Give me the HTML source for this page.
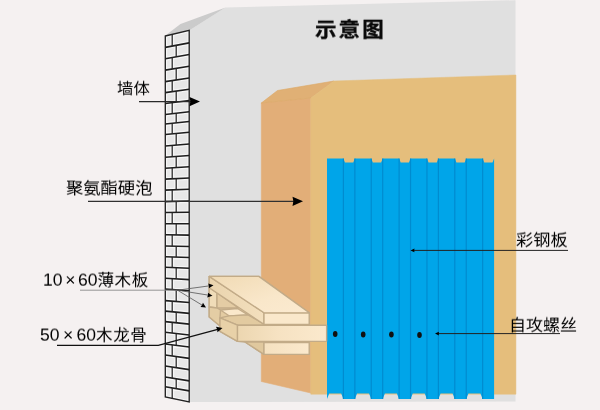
<!DOCTYPE html>
<html lang="zh-CN">
<head>
<meta charset="utf-8">
<title>示意图</title>
<style>
html,body{margin:0;padding:0;background:#f5f1f1;}
body{width:600px;height:410px;overflow:hidden;position:relative;font-family:"Liberation Sans","Noto Sans CJK SC",sans-serif;}
svg{position:absolute;left:0;top:0;display:block;}
.t{font-weight:400;position:absolute;transform:translateZ(0) scaleY(0.93);transform-origin:0 50%;will-change:transform;white-space:nowrap;color:#000;font-size:16px;line-height:1;margin:0;}
.title{font-weight:bold;font-size:21.5px;letter-spacing:2.1px;color:#0a0a0a;left:315px;top:19.8px;transform:translateZ(0) scaleY(0.93);transform-origin:0 50%;-webkit-text-stroke:0.35px #0a0a0a;}
.c{font-size:16.6px;letter-spacing:0.5px;}
</style>
</head>
<body>
<svg width="600" height="410" viewBox="0 0 600 410">
<defs>
<linearGradient id="gw4" x1="0" y1="0" x2="1" y2="0"><stop offset="0" stop-color="#f5e1c0"/><stop offset="1" stop-color="#fbe9cd"/></linearGradient>
<linearGradient id="gw1" x1="0" y1="0" x2="1" y2="0"><stop offset="0" stop-color="#ecd6b0"/><stop offset="0.45" stop-color="#f6e2c2"/><stop offset="1" stop-color="#fbe9cd"/></linearGradient>
<linearGradient id="gw2" x1="0" y1="0" x2="1" y2="0"><stop offset="0" stop-color="#ead4ae"/><stop offset="1" stop-color="#f3dfbd"/></linearGradient>
<linearGradient id="gw3" x1="0" y1="0" x2="1" y2="1"><stop offset="0" stop-color="#f0dab4"/><stop offset="0.6" stop-color="#f9e7ca"/><stop offset="1" stop-color="#fbead0"/></linearGradient>
</defs>
<polygon points="189.2,30.6 225.5,7.6 515.5,0.2 515.5,401.5 189.2,402" fill="#e0e0e0"/>
<polygon points="164.8,36 180.5,24 225.5,7.6 189.2,30.6" fill="#cbcbcb"/>
<clipPath id="bc"><polygon points="165.3,36.00 189.2,30.40 189.2,402.00 165.3,397.00"/></clipPath>
<polygon points="165.3,36.00 189.2,30.40 189.2,402.00 165.3,397.00" fill="#e7e7e7"/>
<g clip-path="url(#bc)"><path d="M165.3,47.40L189.2,42.91M165.3,58.70L189.2,54.50M165.3,70.10L189.2,66.19M165.3,81.60L189.2,77.98M165.3,92.60L189.2,89.26M165.3,103.50L189.2,100.44M165.3,114.50L189.2,111.72M165.3,124.00L189.2,121.46M165.3,134.50L189.2,132.23M165.3,146.00L189.2,144.02M165.3,157.20L189.2,155.51M165.3,168.20L189.2,166.79M165.3,179.10L189.2,177.97M165.3,190.10L189.2,189.25M165.3,201.60L189.2,201.04M165.3,212.50L189.2,212.22M165.3,223.80L189.2,223.81M165.3,234.80L189.2,235.09M165.3,246.00L189.2,246.57M165.3,256.70L189.2,257.55M165.3,267.20L189.2,268.31M165.3,278.20L189.2,279.59M165.3,289.10L189.2,290.77M165.3,300.60L189.2,302.57M165.3,311.10L189.2,313.33M165.3,321.60L189.2,324.10M165.3,332.30L189.2,335.07M165.3,344.00L189.2,347.07M165.3,355.00L189.2,358.35M165.3,366.00L189.2,369.63M165.3,377.00L189.2,380.91M165.3,386.70L189.2,390.86M172.2,34.38L172.2,46.10M176.2,45.35L176.2,56.78M172.2,57.49L172.2,68.97M176.2,68.32L176.2,79.95M172.2,80.56L172.2,91.64M176.2,91.08L176.2,102.10M172.2,102.62L172.2,113.70M176.2,113.23L176.2,122.84M172.2,123.27L172.2,133.84M176.2,133.46L176.2,145.10M172.2,145.43L172.2,156.71M176.2,156.43L176.2,167.56M172.2,167.79L172.2,178.77M176.2,178.58L176.2,189.71M172.2,189.85L172.2,201.44M176.2,201.35L176.2,212.37M172.2,212.42L172.2,223.80M176.2,223.80L176.2,234.93M172.2,234.88L172.2,246.17M176.2,246.26L176.2,257.09M172.2,256.94L172.2,267.52M176.2,267.71L176.2,278.84M172.2,278.60L172.2,289.58M176.2,289.86L176.2,301.50M172.2,301.17L172.2,311.74M176.2,312.12L176.2,322.74M172.2,322.32L172.2,333.10M176.2,333.57L176.2,345.40M172.2,344.89L172.2,355.97M176.2,356.53L176.2,367.66M172.2,367.05L172.2,378.13M176.2,378.79L176.2,388.60M172.2,387.90L172.2,398.44" fill="none" stroke="#f6f6f6" stroke-width="4"/><polygon points="165.3,36.00 189.2,30.40 189.2,402.00 165.3,397.00" fill="none" stroke="#f6f6f6" stroke-width="3.6"/></g>
<path d="M165.3,47.40L189.2,42.91M165.3,58.70L189.2,54.50M165.3,70.10L189.2,66.19M165.3,81.60L189.2,77.98M165.3,92.60L189.2,89.26M165.3,103.50L189.2,100.44M165.3,114.50L189.2,111.72M165.3,124.00L189.2,121.46M165.3,134.50L189.2,132.23M165.3,146.00L189.2,144.02M165.3,157.20L189.2,155.51M165.3,168.20L189.2,166.79M165.3,179.10L189.2,177.97M165.3,190.10L189.2,189.25M165.3,201.60L189.2,201.04M165.3,212.50L189.2,212.22M165.3,223.80L189.2,223.81M165.3,234.80L189.2,235.09M165.3,246.00L189.2,246.57M165.3,256.70L189.2,257.55M165.3,267.20L189.2,268.31M165.3,278.20L189.2,279.59M165.3,289.10L189.2,290.77M165.3,300.60L189.2,302.57M165.3,311.10L189.2,313.33M165.3,321.60L189.2,324.10M165.3,332.30L189.2,335.07M165.3,344.00L189.2,347.07M165.3,355.00L189.2,358.35M165.3,366.00L189.2,369.63M165.3,377.00L189.2,380.91M165.3,386.70L189.2,390.86" fill="none" stroke="#1e1e1e" stroke-width="1.6"/>
<path d="M172.2,34.38L172.2,46.10M176.2,45.35L176.2,56.78M172.2,57.49L172.2,68.97M176.2,68.32L176.2,79.95M172.2,80.56L172.2,91.64M176.2,91.08L176.2,102.10M172.2,102.62L172.2,113.70M176.2,113.23L176.2,122.84M172.2,123.27L172.2,133.84M176.2,133.46L176.2,145.10M172.2,145.43L172.2,156.71M176.2,156.43L176.2,167.56M172.2,167.79L172.2,178.77M176.2,178.58L176.2,189.71M172.2,189.85L172.2,201.44M176.2,201.35L176.2,212.37M172.2,212.42L172.2,223.80M176.2,223.80L176.2,234.93M172.2,234.88L172.2,246.17M176.2,246.26L176.2,257.09M172.2,256.94L172.2,267.52M176.2,267.71L176.2,278.84M172.2,278.60L172.2,289.58M176.2,289.86L176.2,301.50M172.2,301.17L172.2,311.74M176.2,312.12L176.2,322.74M172.2,322.32L172.2,333.10M176.2,333.57L176.2,345.40M172.2,344.89L172.2,355.97M176.2,356.53L176.2,367.66M172.2,367.05L172.2,378.13M176.2,378.79L176.2,388.60M172.2,387.90L172.2,398.44" fill="none" stroke="#262626" stroke-width="1.25"/>
<polygon points="165.3,36.00 189.2,30.40 189.2,402.00 165.3,397.00" fill="none" stroke="#222" stroke-width="1.35" stroke-linejoin="miter"/>
<polygon points="261.3,103 310.8,98 310.8,393 261.3,381.5" fill="#e2ae78" stroke="#e2ae78" stroke-width="0.6"/>
<polygon points="261.3,103 277.5,90.5 334,81 310.8,98" fill="#e0b075" stroke="#dba764" stroke-width="0.6"/>
<polygon points="310.8,98 334,81 515.9,75 515.9,394.2 310.8,394.2" fill="#e5be7c" stroke="#e5be7c" stroke-width="0.5"/>
<polygon points="327.00,158.40 343.40,158.40 345.00,162.60 353.25,162.60 354.85,158.40 371.25,158.40 372.85,162.60 381.10,162.60 382.70,158.40 399.10,158.40 400.70,162.60 408.95,162.60 410.55,158.40 426.95,158.40 428.55,162.60 436.80,162.60 438.40,158.40 454.80,158.40 456.40,162.60 464.65,162.60 466.25,158.40 482.65,158.40 484.25,162.60 492.50,162.60 494.10,158.40 494.10,399.00 482.65,399.00 480.45,393.40 468.45,393.40 466.25,399.00 454.80,399.00 452.60,393.40 440.60,393.40 438.40,399.00 426.95,399.00 424.75,393.40 412.75,393.40 410.55,399.00 399.10,399.00 396.90,393.40 384.90,393.40 382.70,399.00 371.25,399.00 369.05,393.40 357.05,393.40 354.85,399.00 343.40,399.00 341.20,393.40 329.20,393.40 327.00,399.00 327.00,158.40" fill="#00a5e9"/>
<path d="M343.40,158.4L343.40,399.0M354.85,158.4L354.85,399.0M371.25,158.4L371.25,399.0M382.70,158.4L382.70,399.0M399.10,158.4L399.10,399.0M410.55,158.4L410.55,399.0M426.95,158.4L426.95,399.0M438.40,158.4L438.40,399.0M454.80,158.4L454.80,399.0M466.25,158.4L466.25,399.0M482.65,158.4L482.65,399.0" fill="none" stroke="#008bcf" stroke-width="1.2"/>
<polygon points="209.2,276.4 209.2,317 220,326 220,331.4 237.5,341.4 245,342 264,354.4 309.2,354.4 309.2,312.8 258.8,276.4" fill="#e3cba2" stroke="#c2ab88" stroke-width="1.35" stroke-linejoin="round"/>
<polygon points="245,342 264,342 264,354.4" fill="#e0c89e" stroke="#c2ab88" stroke-width="1.35" stroke-linejoin="round"/>
<polygon points="264,342.6 309.2,342.6 309.2,354.4 264,354.4" fill="url(#gw4)" stroke="#c2ab88" stroke-width="1.35" stroke-linejoin="round"/>
<polygon points="209.2,287.8 217,293 217,308 209.2,307" fill="#f0dcb8" stroke="#c2ab88" stroke-width="1.35" stroke-linejoin="round"/>
<polygon points="217,293 238.5,308 217,308" fill="#e4cca4" stroke="#c2ab88" stroke-width="1.35" stroke-linejoin="round"/>
<polygon points="209.2,307 217,308 220.5,310 220,317.5 220,326 209.2,317" fill="#e4cda4" stroke="#c2ab88" stroke-width="1.35" stroke-linejoin="round"/>
<polygon points="220.5,310 237.5,308.5 248,314.8 229,315.8" fill="#fae8cb" stroke="#c2ab88" stroke-width="1.35" stroke-linejoin="round"/>
<polygon points="220,317.8 229,315.8 248,314.8 264,324.2 264,325.2 237.5,325.2" fill="#e2caa0" stroke="#c2ab88" stroke-width="1.35" stroke-linejoin="round"/>
<polygon points="220,317.8 237.5,325.2 237.5,341.3 220,331.4" fill="#e8d1a8" stroke="#c2ab88" stroke-width="1.35" stroke-linejoin="round"/>
<polygon points="237.5,325.2 326.6,325.2 326.6,341.3 237.5,341.3" fill="url(#gw1)" stroke="#c2ab88" stroke-width="1.35" stroke-linejoin="round"/>
<polygon points="209.2,276.4 264,312.8 264,324.4 209.2,287.8" fill="url(#gw2)" stroke="#c2ab88" stroke-width="1.35" stroke-linejoin="round"/>
<polygon points="264,312.8 309.2,312.8 309.2,324.4 264,324.4" fill="#fae8cb" stroke="#c2ab88" stroke-width="1.35" stroke-linejoin="round"/>
<polygon points="209.2,276.4 258.8,276.4 309.2,312.8 264,312.8" fill="url(#gw3)" stroke="#c2ab88" stroke-width="1.35" stroke-linejoin="round"/>
<ellipse cx="335.2" cy="334" rx="2.3" ry="2.9" fill="#111"/>
<ellipse cx="363.2" cy="334.5" rx="2.3" ry="2.9" fill="#111"/>
<ellipse cx="391.4" cy="334.5" rx="2.3" ry="2.9" fill="#111"/>
<ellipse cx="419.5" cy="335" rx="2.3" ry="2.9" fill="#111"/>
<path d="M139,101.6L191.50,101.60" fill="none" stroke="#2a2a2a" stroke-width="1.2"/>
<polygon points="200.00,101.60 189.50,106.20 190.34,101.60 189.50,97.00" fill="#000"/>
<path d="M88,201.3L294.50,201.30" fill="none" stroke="#303030" stroke-width="1.3"/>
<polygon points="303.00,201.30 292.50,205.90 293.34,201.30 292.50,196.70" fill="#000"/>
<path d="M80,290.2L177.5,290.2" fill="none" stroke="#8a8a8a" stroke-width="0.9"/>
<path d="M177.5,290.2L210.53,285.70" fill="none" stroke="#555" stroke-width="0.8"/>
<polygon points="213.50,285.30 208.87,288.35 208.94,285.92 208.22,283.60" fill="#000"/>
<path d="M177.5,290.2L209.54,295.33" fill="none" stroke="#555" stroke-width="0.8"/>
<polygon points="212.50,295.80 207.18,297.38 207.96,295.07 207.94,292.64" fill="#000"/>
<path d="M177.5,290.2L203.44,305.94" fill="none" stroke="#555" stroke-width="0.8"/>
<polygon points="206.00,307.50 200.48,306.96 202.07,305.11 202.97,302.85" fill="#000"/>
<path d="M57,345.4L158.3,345.4L218.64,329.05" fill="none" stroke="#111" stroke-width="1.2"/>
<polygon points="222.50,328.00 217.44,332.27 217.17,329.44 215.98,326.87" fill="#000"/>
<path d="M568,250.4L412.50,250.40" fill="none" stroke="#222" stroke-width="1.0"/>
<polygon points="410.50,250.40 414.50,248.60 414.18,250.40 414.50,252.20" fill="#000"/>
<path d="M560,333.6L437.00,333.60" fill="none" stroke="#222" stroke-width="1.0"/>
<polygon points="435.00,333.60 439.00,331.80 438.68,333.60 439.00,335.40" fill="#000"/>
</svg>
<h1 class="t title">示意图</h1>
<div class="t" id="l1" style="left:117px;top:80px;font-size:16.4px;">墙体</div>
<div class="t" id="l2" style="left:66px;top:180.3px;font-size:17.3px;">聚氨酯硬泡</div>
<div class="t" id="l3" style="left:43.3px;top:271.5px;font-size:17.5px;word-spacing:-2.2px;">10 × 60<span class="c">薄木板</span></div>
<div class="t" id="l4" style="left:40.1px;top:327.4px;font-size:17.5px;word-spacing:-1.4px;">50 × 60<span class="c" style="font-size:16.5px;letter-spacing:0.6px">木龙骨</span></div>
<div class="t" id="l5" style="left:516px;top:232px;font-size:17.2px;">彩钢板</div>
<div class="t" id="l6" style="left:508.8px;top:316.8px;font-size:17px;">自攻螺丝</div>
</body>
</html>
